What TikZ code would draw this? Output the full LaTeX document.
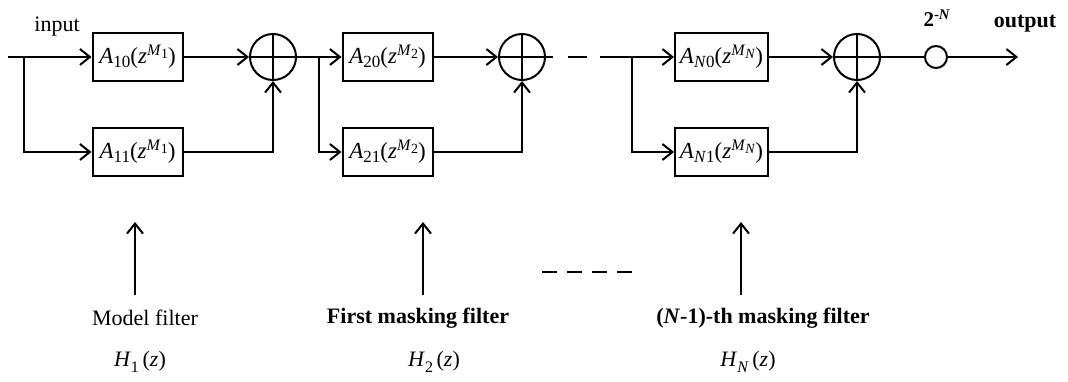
\documentclass[tikz,border=0pt]{standalone}
\usepackage{fontspec}
\setmainfont{Liberation Serif}
\usetikzlibrary{arrows.meta}
\newcommand{\Afil}[2]{\textit{A}\raisebox{-0.35ex}{\fontsize{17}{17}\selectfont #1}(\textit{z}\raisebox{0.75ex}{\fontsize{16}{16}\selectfont\textit{M}\raisebox{-0.4ex}{\fontsize{14}{14}\selectfont #2}})}
\newcommand{\Hfil}[1]{\textit{H}\raisebox{-0.55ex}{\fontsize{16}{16}\selectfont #1}\,(\textit{z})}
\tikzset{
  blk/.style={draw, line width=2pt, minimum width=90pt, minimum height=48pt, inner sep=0pt, font=\fontsize{23}{26}\selectfont},
  sumc/.style={draw, circle, line width=2pt, minimum size=46pt, inner sep=0pt},
  gain/.style={draw, circle, line width=2pt, minimum size=22pt, inner sep=0pt},
  wire/.style={line width=2pt},
  arr/.style={wire, -{Straight Barb[length=10pt,width=16pt,line width=2pt]}},
  lbl/.style={font=\fontsize{22}{26}\selectfont, inner sep=0pt},
  hlbl/.style={font=\fontsize{22}{26}\selectfont, inner sep=0pt},
}
\begin{document}
\begin{tikzpicture}[x=1pt,y=-1pt]
\useasboundingbox[fill=white] (0,0) rectangle (1068,382);
% blocks
\node[blk] (a10) at (137.5,57) {\Afil{10}{1}};
\node[blk] (a11) at (137.5,152) {\Afil{11}{1}};
\node[blk] (a20) at (387.5,57) {\Afil{20}{2}};
\node[blk] (a21) at (387.5,152) {\Afil{21}{2}};
\node[blk, minimum width=93pt] (aN0) at (721.5,57) {\Afil{\textit{N}0}{\textit{N}}};
\node[blk, minimum width=93pt] (aN1) at (721.5,152) {\Afil{\textit{N}1}{\textit{N}}};
% summers
\node[sumc] (s1) at (273,57) {};
\node[sumc] (s2) at (522,57) {};
\node[sumc] (s3) at (857,57) {};
\foreach \s in {s1,s2,s3}{
  \draw[wire] (\s.north) -- (\s.south);
  \draw[wire] (\s.west) -- (\s.east);
}
\node[gain] (g) at (936,57) {};
% coordinates
\coordinate (in) at (8,57);
\coordinate (sp0) at (24,57);
\coordinate (sp1) at (319,57);
\coordinate (d0) at (553,57);
\coordinate (d1) at (568,57);
\coordinate (d2) at (587,57);
\coordinate (d3) at (600,57);
\coordinate (sp2) at (632,57);
\coordinate (out) at (1018,57);
% stage 1
\draw[wire] (in) -- (sp0);
\draw[arr] (sp0) -- (a10.west);
\draw[arr] (sp0) |- (a11.west);
\draw[arr] (a10.east) -- (s1.west);
\draw[arr] (a11.east) -| (s1.south);
% stage 2
\draw[wire] (s1.east) -- (sp1);
\draw[arr] (sp1) -- (a20.west);
\draw[arr] (sp1) |- (a21.west);
\draw[arr] (a20.east) -- (s2.west);
\draw[arr] (a21.east) -| (s2.south);
\draw[wire] (s2.east) -- (d0);
\draw[wire] (d1) -- (d2);
\draw[wire] (d3) -- (sp2);
% stage N
\draw[arr] (sp2) -- (aN0.west);
\draw[arr] (sp2) |- (aN1.west);
\draw[arr] (aN0.east) -- (s3.west);
\draw[arr] (aN1.east) -| (s3.south);
\draw[wire] (s3.east) -- (g.west);
\draw[arr] (g.east) -- (out);
% top labels
\node[lbl] (inlbl) at (57,27) {input};
\node[lbl, font=\fontsize{22}{26}\selectfont\bfseries] (outlbl) at (1025,24) {output};
\node[lbl, font=\fontsize{21}{24}\selectfont\bfseries] (glbl) at (937,18) {2\textsuperscript{-\textit{N}}};
% bottom arrows
\coordinate (b1) at (135,295); \coordinate (t1) at (135,222);
\coordinate (b2) at (423,295); \coordinate (t2) at (423,222);
\coordinate (b3) at (741,295); \coordinate (t3) at (741,222);
\draw[arr] (b1) -- (t1);
\draw[arr] (b2) -- (t2);
\draw[arr] (b3) -- (t3);
\coordinate (ds) at (542,272); \coordinate (de) at (632,272);
\draw[wire, dash pattern=on 15pt off 10pt] (ds) -- (de);
\node[lbl] (m1) at (145,318) {Model filter};
\node[lbl, font=\fontsize{22}{26}\selectfont\bfseries] (m2) at (418,318) {First masking filter};
\node[lbl, font=\fontsize{22}{26}\selectfont\bfseries] (m3) at (763,318) {(\textit{N}-1)-th masking filter};
\node[hlbl] (h1) at (140,362) {\Hfil{1}};
\node[hlbl] (h2) at (434,362) {\Hfil{2}};
\node[hlbl] (h3) at (748,362) {\Hfil{\textit{N}}};
\end{tikzpicture}
\end{document}
